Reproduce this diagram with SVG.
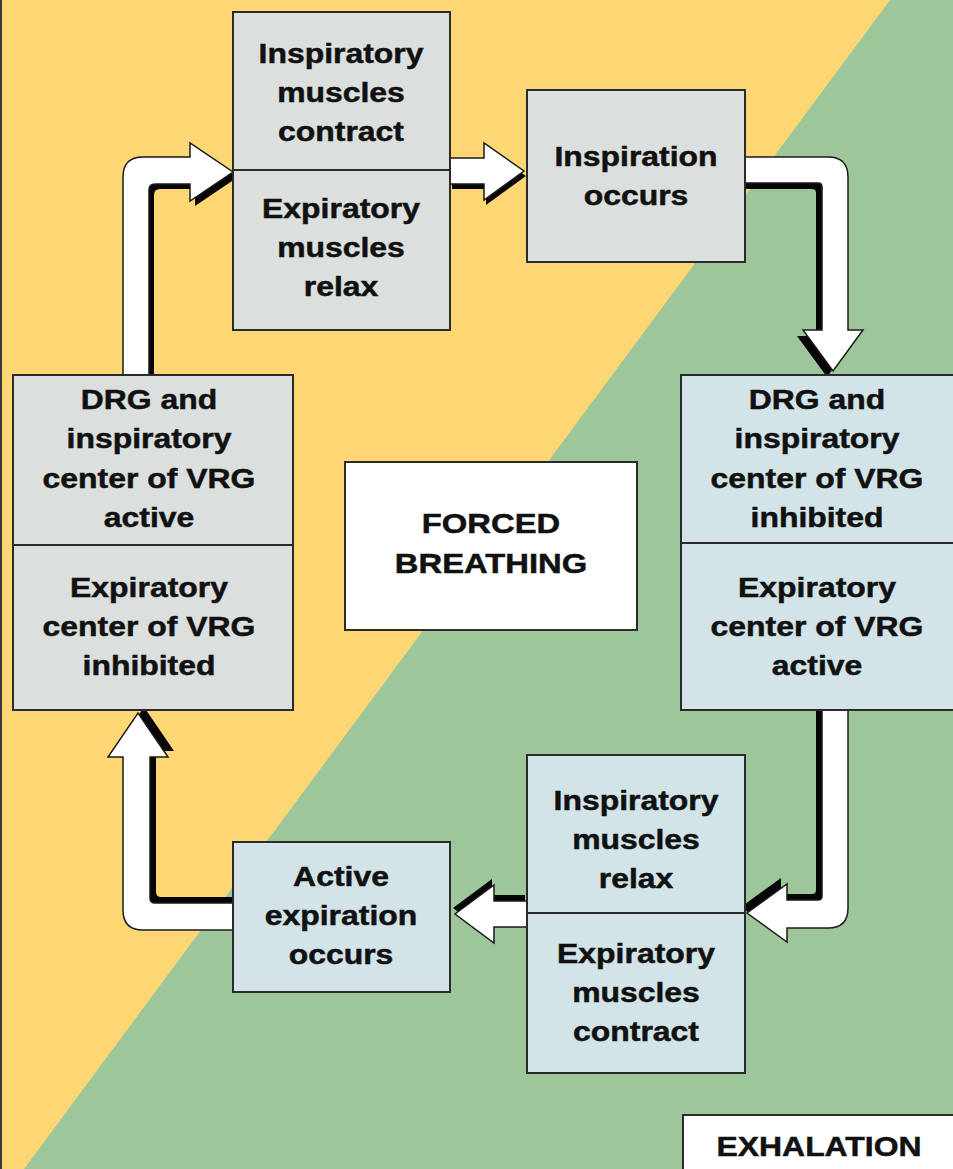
<svg xmlns="http://www.w3.org/2000/svg" width="953" height="1169" viewBox="0 0 953 1169">
  <style>
    .box { stroke: #2b2b2b; stroke-width: 2; }
    .gray { fill: #dbdfde; }
    .blue { fill: #d2e4e8; }
    .white { fill: #ffffff; }
    .split { stroke: #2b2b2b; stroke-width: 2; fill: none; }
    .t { font-family: "Liberation Sans", Arial, Helvetica, sans-serif; font-weight: bold; font-size: 28px; fill: #111111; stroke: #111111; stroke-width: 0.5; text-anchor: middle; }
    .arrow { fill: #ffffff; stroke: #1a1a1a; stroke-width: 1.5; stroke-linejoin: miter; }
    .shadow { fill: #050505; }
  </style>

  <!-- background: inhalation (yellow) and exhalation (green) halves -->
  <g id="background">
    <rect x="0" y="0" width="953" height="1169" fill="#fdd774"/>
    <polygon points="890,0 953,0 953,1169 24,1169" fill="#9dc69b"/>
    <line x1="1" y1="0" x2="1" y2="1169" stroke="#3a3a3a" stroke-width="2"/>
  </g>

  <!-- block arrows of the breathing cycle -->
  <g id="connectors">
    <!-- DRG active -> inspiratory muscles contract -->
    <path class="shadow" transform="translate(5 5)" d="M123,377 V177 Q123,157 143,157 H190 V143 L233,172 L190,201 V184 H155 Q149,184 149,190 V377 Z"/>
    <path class="arrow" d="M123,377 V177 Q123,157 143,157 H190 V143 L233,172 L190,201 V184 H155 Q149,184 149,190 V377 Z"/>

    <!-- muscles -> inspiration occurs -->
    <path class="shadow" transform="translate(2 5)" d="M450,158 H484 V143 L524,171 L484,200 V184 H450 Z"/>
    <path class="arrow" d="M450,158 H484 V143 L524,171 L484,200 V184 H450 Z"/>

    <!-- inspiration occurs -> DRG inhibited -->
    <path class="shadow" transform="translate(-6 6)" d="M745,157 H828 Q848,157 848,177 V330 H863 L833,371 L803,330 H822 V187 Q822,183 818,183 H745 Z"/>
    <path class="arrow" d="M745,157 H828 Q848,157 848,177 V330 H863 L833,371 L803,330 H822 V187 Q822,183 818,183 H745 Z"/>

    <!-- expiratory center active -> muscles -->
    <path class="shadow" transform="translate(-6 -6)" d="M822,710 V896 Q822,900 818,900 H787 V884 L747,913 L787,942 V928 H828 Q848,928 848,908 V710 Z"/>
    <path class="arrow" d="M822,710 V896 Q822,900 818,900 H787 V884 L747,913 L787,942 V928 H828 Q848,928 848,908 V710 Z"/>

    <!-- muscles -> active expiration occurs -->
    <path class="shadow" transform="translate(-2 -6)" d="M527,901 H494 V885 L455,914 L494,943 V927 H527 Z"/>
    <path class="arrow" d="M527,901 H494 V885 L455,914 L494,943 V927 H527 Z"/>

    <!-- active expiration occurs -> DRG active -->
    <path class="shadow" transform="translate(6 -6)" d="M150,757 H168 L138,713 L108,757 H123 V910 Q123,930 143,930 H233 V903 H155 Q150,903 150,898 Z"/>
    <path class="arrow" d="M150,757 H168 L138,713 L108,757 H123 V910 Q123,930 143,930 H233 V903 H155 Q150,903 150,898 Z"/>
  </g>

  <!-- inspiratory muscles contract / expiratory muscles relax -->
  <g id="node-muscles-inspiration">
    <rect class="box gray" x="233" y="12" width="217" height="318"/>
    <line class="split" x1="233" y1="170" x2="450" y2="170"/>
    <g transform="translate(341 0) scale(1.14 1)">
      <text class="t" y="63">Inspiratory</text>
      <text class="t" y="102">muscles</text>
      <text class="t" y="141">contract</text>
      <text class="t" y="218">Expiratory</text>
      <text class="t" y="257">muscles</text>
      <text class="t" y="296">relax</text>
    </g>
  </g>

  <g id="node-inspiration-occurs">
    <rect class="box gray" x="527" y="90" width="218" height="172"/>
    <g transform="translate(636 0) scale(1.14 1)">
      <text class="t" y="166">Inspiration</text>
      <text class="t" y="205">occurs</text>
    </g>
  </g>

  <g id="node-centers-exhale">
    <rect class="box blue" x="681" y="375" width="276" height="335"/>
    <line class="split" x1="681" y1="543" x2="957" y2="543"/>
    <g transform="translate(817 0) scale(1.14 1)">
      <text class="t" y="409">DRG and</text>
      <text class="t" y="448">inspiratory</text>
      <text class="t" y="488">center of VRG</text>
      <text class="t" y="527">inhibited</text>
      <text class="t" y="597">Expiratory</text>
      <text class="t" y="636">center of VRG</text>
      <text class="t" y="675">active</text>
    </g>
  </g>

  <g id="node-centers-inhale">
    <rect class="box gray" x="13" y="375" width="280" height="335"/>
    <line class="split" x1="13" y1="545" x2="293" y2="545"/>
    <g transform="translate(149 0) scale(1.14 1)">
      <text class="t" y="409">DRG and</text>
      <text class="t" y="448">inspiratory</text>
      <text class="t" y="488">center of VRG</text>
      <text class="t" y="527">active</text>
      <text class="t" y="597">Expiratory</text>
      <text class="t" y="636">center of VRG</text>
      <text class="t" y="675">inhibited</text>
    </g>
  </g>

  <g id="node-forced-breathing">
    <rect class="box white" x="345" y="462" width="292" height="168"/>
    <g transform="translate(491 0) scale(1.17 1)">
      <text class="t" y="533">FORCED</text>
      <text class="t" y="573">BREATHING</text>
    </g>
  </g>

  <g id="node-muscles-expiration">
    <rect class="box blue" x="527" y="755" width="218" height="318"/>
    <line class="split" x1="527" y1="913" x2="745" y2="913"/>
    <g transform="translate(636 0) scale(1.14 1)">
      <text class="t" y="810">Inspiratory</text>
      <text class="t" y="849">muscles</text>
      <text class="t" y="888">relax</text>
      <text class="t" y="963">Expiratory</text>
      <text class="t" y="1002">muscles</text>
      <text class="t" y="1041">contract</text>
    </g>
  </g>

  <g id="node-active-expiration">
    <rect class="box blue" x="233" y="842" width="217" height="150"/>
    <g transform="translate(341 0) scale(1.14 1)">
      <text class="t" y="886">Active</text>
      <text class="t" y="925">expiration</text>
      <text class="t" y="964">occurs</text>
    </g>
  </g>

  <g id="node-exhalation">
    <rect class="box white" x="683" y="1115" width="275" height="60"/>
    <g transform="translate(819 0) scale(1.14 1)">
      <text class="t" y="1156">EXHALATION</text>
    </g>
  </g>
</svg>
